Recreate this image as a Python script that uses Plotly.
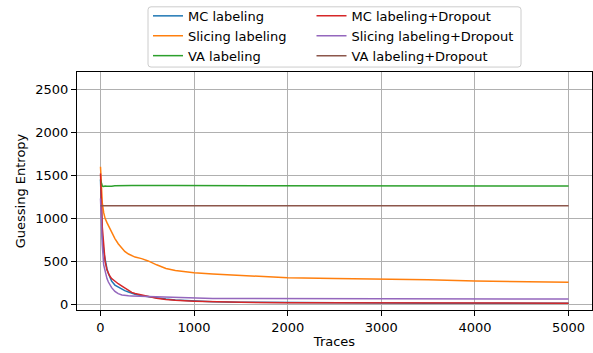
import plotly.graph_objects as go

# Number of attack traces at which guessing entropy was recorded
traces = [1, 10, 20, 35, 50, 70, 85, 100, 120, 155, 190, 230, 260, 300, 335, 370,
          440, 510, 600, 700, 800, 1000, 1200, 1500, 2000, 2500, 3000, 3500, 4000,
          4500, 5000]

mc_labeling = [1450, 1050, 800, 610, 520, 415, 360, 320, 270, 225, 200, 175, 160, 145,
               130, 118, 100, 88, 75, 62, 52, 40, 32, 25, 19, 16, 15, 14, 13, 13, 12]
slicing_labeling = [1600, 1300, 1180, 1065, 1000, 950, 915, 885, 840, 765, 705, 650, 615,
                    585, 565, 550, 532, 505, 460, 418, 393, 367, 352, 338, 310, 300, 294,
                    285, 271, 262, 256]
va_labeling = [1450, 1390, 1375, 1370, 1376, 1374, 1372, 1376, 1374, 1378, 1380, 1378,
               1380, 1378, 1381, 1380, 1382, 1381, 1380, 1381, 1380, 1380, 1378, 1378,
               1377, 1377, 1376, 1376, 1376, 1376, 1376]
mc_dropout = [1520, 1130, 900, 700, 500, 400, 360, 330, 300, 265, 240, 212, 190, 164,
              140, 126, 107, 90, 72, 58, 48, 38, 30, 24, 19, 17, 16, 15, 15, 14, 14]
slicing_dropout = [1230, 850, 690, 460, 380, 300, 260, 230, 195, 150, 125, 110, 102, 100,
                   99, 98, 95, 92, 88, 83, 79, 73, 70, 68, 66, 65, 65, 64, 64, 63, 63]
va_dropout = [1147] * len(traces)

# (label, values, colour, legend column)
series = [
    ("MC labeling", mc_labeling, "#1f77b4", "legend"),
    ("Slicing labeling", slicing_labeling, "#ff7f0e", "legend"),
    ("VA labeling", va_labeling, "#2ca02c", "legend"),
    ("MC labeling+Dropout", mc_dropout, "#d62728", "legend2"),
    ("Slicing labeling+Dropout", slicing_dropout, "#9467bd", "legend2"),
    ("VA labeling+Dropout", va_dropout, "#8c564b", "legend2"),
]

FONT = "DejaVu Sans"
FS = 13

# plot-area geometry in pixels, used to place the legend frame
W, H = 593, 353
ML, MR, MT, MB = 77, 1, 69, 43
PW, PH = W - ML - MR, H - MT - MB


def px_to_paper(px, py):
    return (px - ML) / PW, (H - MB - py) / PH


fig = go.Figure()
for name, values, color, leg in series:
    fig.add_trace(go.Scatter(
        x=traces, y=values, mode="lines", name=name, legend=leg,
        line=dict(color=color, width=1.5),
    ))

axis_common = dict(
    showgrid=True, gridcolor="#b0b0b0", gridwidth=1,
    showline=True, linecolor="black", linewidth=1, mirror=True,
    ticks="outside", ticklen=5, tickwidth=1, tickcolor="black",
    tickfont=dict(family=FONT, size=FS, color="black"),
    zeroline=False,
)

legend_common = dict(
    orientation="v", xanchor="left", yanchor="top",
    itemwidth=30, bgcolor="rgba(0,0,0,0)", borderwidth=0,
    font=dict(family=FONT, size=FS, color="black"), tracegroupgap=0,
)

# rounded legend frame
x0, y1 = px_to_paper(148, 3)
x1, y0 = px_to_paper(521, 64)
rx, ry = 3 / PW, 3 / PH
frame = (f"M {x0 + rx} {y1} L {x1 - rx} {y1} Q {x1} {y1} {x1} {y1 - ry} "
         f"L {x1} {y0 + ry} Q {x1} {y0} {x1 - rx} {y0} "
         f"L {x0 + rx} {y0} Q {x0} {y0} {x0} {y0 + ry} "
         f"L {x0} {y1 - ry} Q {x0} {y1} {x0 + rx} {y1} Z")

lx1, ly = px_to_paper(148, -3)
lx2, _ = px_to_paper(311.5, -3)

fig.update_layout(
    width=W, height=H,
    margin=dict(l=ML, r=MR, t=MT, b=MB),
    paper_bgcolor="white", plot_bgcolor="white",
    font=dict(family=FONT, size=FS, color="black"),
    xaxis=dict(range=[-250, 5250], tickvals=[0, 1000, 2000, 3000, 4000, 5000],
               title=dict(text="Traces", font=dict(family=FONT, size=FS), standoff=3),
               **axis_common),
    yaxis=dict(range=[-65, 2700], tickvals=[0, 500, 1000, 1500, 2000, 2500],
               title=dict(text="Guessing Entropy", font=dict(family=FONT, size=FS), standoff=6),
               **axis_common),
    legend=dict(x=lx1, y=ly, **legend_common),
    legend2=dict(x=lx2, y=ly, **legend_common),
    shapes=[dict(type="path", xref="paper", yref="paper", path=frame,
                 line=dict(color="#cccccc", width=1), fillcolor="rgba(255,255,255,0.8)",
                 layer="above")],
    showlegend=True,
)

fig.write_html("out.html")
